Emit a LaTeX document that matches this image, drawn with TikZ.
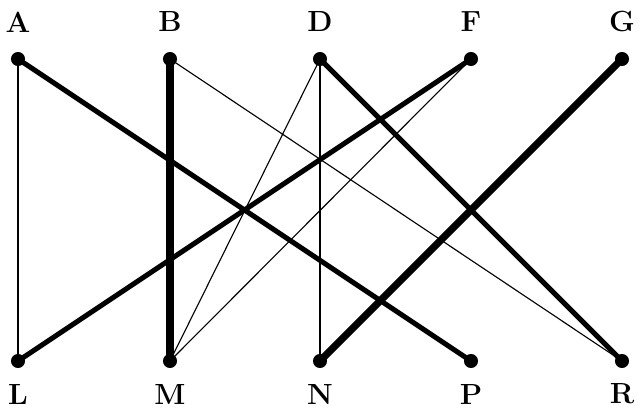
\documentclass[tikz,border=0pt]{standalone}
\usepackage{tikz}
\usetikzlibrary{positioning}
\tikzset{
  bg/dot/.style={circle, fill=black, inner sep=0pt, minimum size=10pt},
  bg/label/.style={font=\huge\bfseries, inner sep=0pt},
  bg/thin/.style={line width=0.8pt},
  bg/mid/.style={line width=3.6pt},
  bg/heavy/.style={line width=5.2pt}
}

\begin{document}
\begin{tikzpicture}[x=0.025cm, y=-0.025cm]
  \useasboundingbox (0,0) rectangle (640,412);
  % top vertices
  \node[bg/dot] (A) at (18,59) {};
  \node[bg/dot] (B) at (170,59) {};
  \node[bg/dot] (D) at (320,59) {};
  \node[bg/dot] (F) at (471,59) {};
  \node[bg/dot] (G) at (622,59) {};
  % bottom vertices
  \node[bg/dot] (L) at (18,361) {};
  \node[bg/dot] (M) at (170,361) {};
  \node[bg/dot] (N) at (320,361) {};
  \node[bg/dot] (P) at (471,361) {};
  \node[bg/dot] (R) at (622,361) {};
  % labels
  \node[bg/label] (lA) at (18,22) {A};
  \node[bg/label] (lB) at (170,22) {B};
  \node[bg/label] (lD) at (320,22) {D};
  \node[bg/label] (lF) at (471,22) {F};
  \node[bg/label] (lG) at (622,22) {G};
  \node[bg/label] (lL) at (18,394) {L};
  \node[bg/label] (lM) at (170,394) {M};
  \node[bg/label] (lN) at (320,394) {N};
  \node[bg/label] (lP) at (471,394) {P};
  \node[bg/label] (lR) at (622,394) {R};
  % edges
  \draw[bg/thin] (A.center) -- (L.center);
  \draw[bg/thin] (B.center) -- (R.center);
  \draw[bg/thin] (D.center) -- (N.center);
  \draw[bg/thin] (D.center) -- (M.center);
  \draw[bg/thin] (F.center) -- (M.center);
  \draw[bg/mid] (A.center) -- (P.center);
  \draw[bg/mid] (D.center) -- (R.center);
  \draw[bg/mid] (F.center) -- (L.center);
  \draw[bg/heavy] (B.center) -- (M.center);
  \draw[bg/heavy] (G.center) -- (N.center);
\end{tikzpicture}
\end{document}
